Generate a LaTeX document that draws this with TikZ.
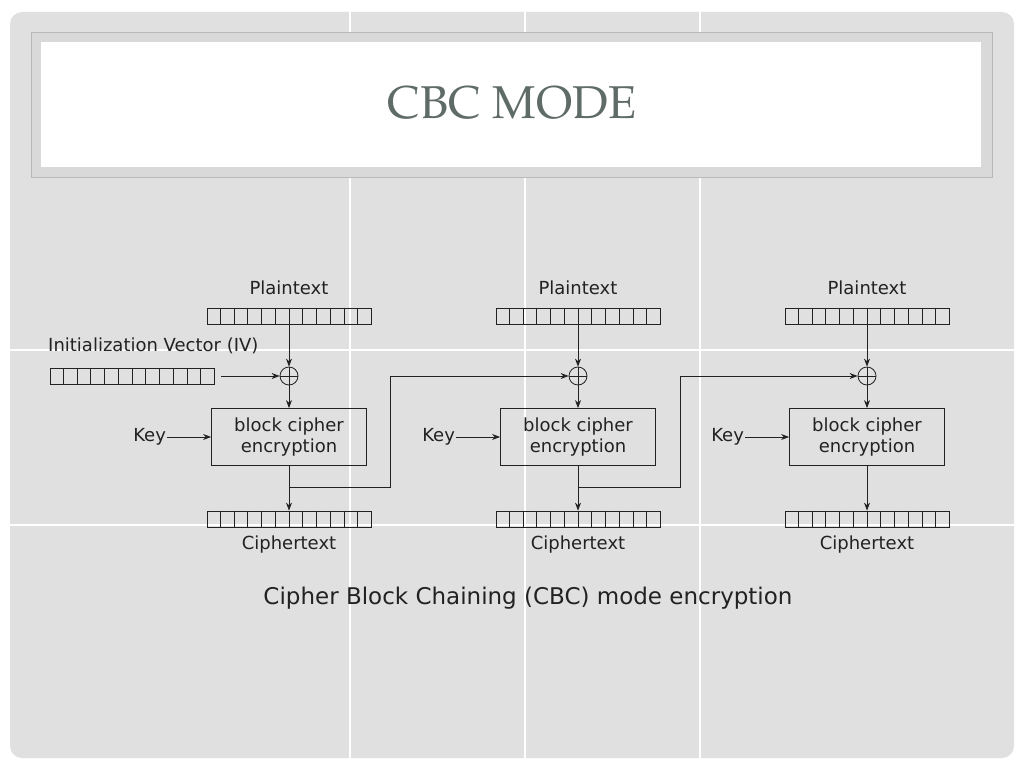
\documentclass[tikz,border=0pt]{standalone}
\usepackage{fontspec}
\setmainfont{DejaVu Sans}
\newfontfamily\titlefont{TeX Gyre Pagella}
\usetikzlibrary{arrows.meta,positioning,calc}
\definecolor{panel}{HTML}{E0E0E0}
\definecolor{titlegray}{HTML}{5F6B66}
\definecolor{ink}{HTML}{222222}

\tikzset{
  reg/.style={draw=ink, thick, minimum width=164pt, minimum height=16pt, inner sep=0pt},
  cipher/.style={draw=ink, thick, minimum width=155pt, minimum height=57pt, align=center,
    font=\fontsize{18}{21}\selectfont, text=ink},
  lbl/.style={font=\fontsize{18}{21}\selectfont, text=ink, inner sep=1pt},
  xor/.style={circle, draw=ink, thick, minimum size=18pt, inner sep=0pt,
    path picture={\draw[ink, thick] (path picture bounding box.north) -- (path picture bounding box.south)
      (path picture bounding box.west) -- (path picture bounding box.east);}},
  flow/.style={-{Stealth[length=8pt,width=6pt]}, thick, draw=ink}
}
% cells of a register
\newcommand{\cells}[1]{\foreach \k in {1,...,11}
  {\draw[ink, thick] ($(#1.north west)!\k/12!(#1.north east)$) -- ($(#1.south west)!\k/12!(#1.south east)$);}}

\begin{document}
\begin{tikzpicture}[x=1pt,y=-1pt]
\useasboundingbox (0,0) rectangle (1024,768);
% background
\fill[panel, rounded corners=12pt] (10,12) rectangle (1014,758);
\foreach \gx in {350,525,700} \draw[white, line width=1.2pt] (\gx,12) -- (\gx,758);
\foreach \gy in {350,525} \draw[white, line width=1.2pt] (10,\gy) -- (1014,\gy);
\fill[gray!55] (31,32) rectangle (993,178);
\fill[gray!30] (32,33) rectangle (992,177);
\fill[white] (41,42) rectangle (981,167);
\node[text=titlegray, font=\titlefont\fontsize{46}{50}\selectfont] (title) at (512,103) {CBC MODE};

% stages
\foreach \i/\cx in {1/289,2/578,3/867} {
  \node[lbl] (pt\i) at (\cx,288) {Plaintext};
  \node[reg] (pr\i) at (\cx,316) {};
  \cells{pr\i}
  \node[xor] (x\i) at (\cx,376) {};
  \node[cipher] (bc\i) at (\cx,437) {block cipher\\encryption};
  \node[lbl, left=44pt of bc\i] (key\i) {Key};
  \node[reg] (cr\i) at (\cx,519) {};
  \cells{cr\i}
  \node[lbl] (ct\i) at (\cx,545) {Ciphertext};
  \draw[flow] (pr\i) -- (x\i);
  \draw[flow] (x\i) -- (bc\i);
  \draw[flow] (key\i) -- (bc\i);
  \draw[flow] (bc\i) -- (cr\i);
}

% initialization vector
\node[reg] (iv) at (132,376) {};
\cells{iv}
\node[lbl, anchor=west] (ivl) at (47,346) {Initialization Vector (IV)};
\draw[flow] ($(iv.east)+(7,0)$) -- (x1);

% chaining
\coordinate (c1) at (289,487);
\coordinate (c2) at (578,487);
\draw[flow] (c1) -| (390,376) -- (x2);
\draw[flow] (c2) -| (680,376) -- (x3);

\node[font=\fontsize{23}{27}\selectfont, text=ink] (cap) at (528,598) {Cipher Block Chaining (CBC) mode encryption};
\end{tikzpicture}
\end{document}
